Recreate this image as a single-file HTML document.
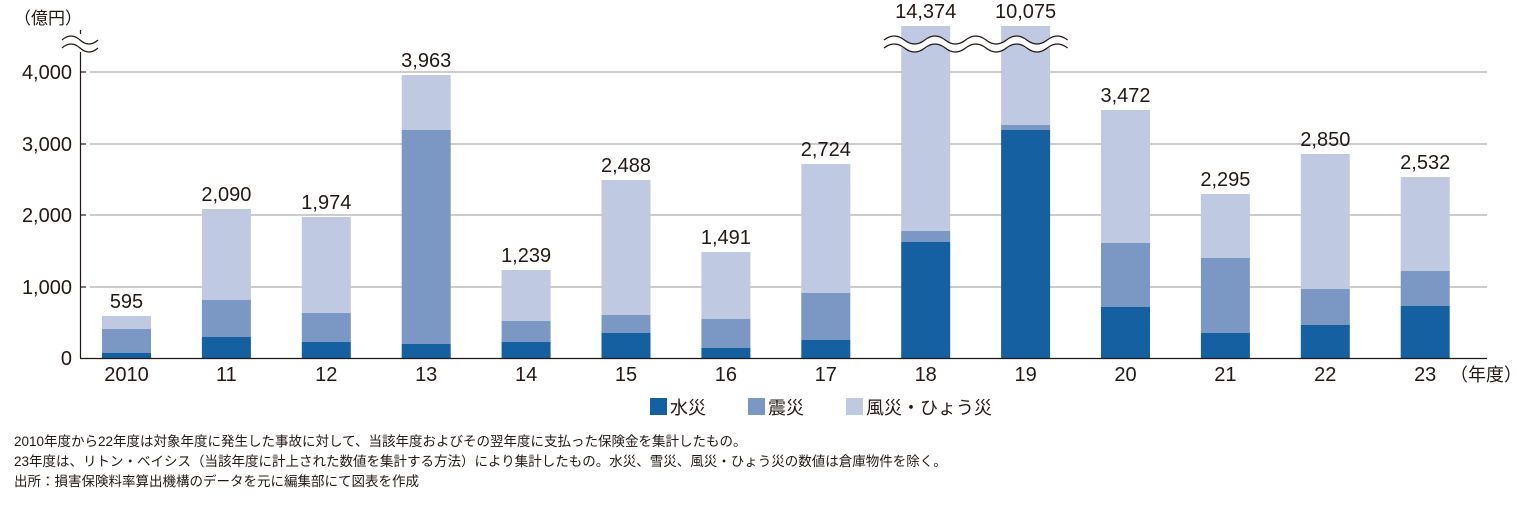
<!DOCTYPE html>
<html><head><meta charset="utf-8"><style>
body{margin:0;background:#fff;width:1517px;height:503px;overflow:hidden}
svg text{font-family:"Liberation Sans","Noto Sans CJK JP",sans-serif;fill:#231815}
.l{fill:#bfc9e1}.m{fill:#7b98c4}.d{fill:#1460a0}
</style></head><body>
<svg width="1517" height="503" xmlns="http://www.w3.org/2000/svg">
<g stroke="#999" stroke-width="1">
<line x1="90" y1="72" x2="1487" y2="72"/><line x1="90" y1="144" x2="1487" y2="144"/>
<line x1="90" y1="215" x2="1487" y2="215"/><line x1="90" y1="287" x2="1487" y2="287"/>
</g>
<g>
<rect class="l" x="102" y="316" width="49" height="13"/><rect class="m" x="102" y="329" width="49" height="24"/><rect class="d" x="102" y="353" width="49" height="5"/>
<rect class="l" x="201.9" y="209" width="49" height="91"/><rect class="m" x="201.9" y="300" width="49" height="37"/><rect class="d" x="201.9" y="337" width="49" height="21"/>
<rect class="l" x="301.8" y="217" width="49" height="96"/><rect class="m" x="301.8" y="313" width="49" height="29"/><rect class="d" x="301.8" y="342" width="49" height="16"/>
<rect class="l" x="401.7" y="75" width="49" height="55"/><rect class="m" x="401.7" y="130" width="49" height="214"/><rect class="d" x="401.7" y="344" width="49" height="14"/>
<rect class="l" x="501.6" y="270" width="49" height="51"/><rect class="m" x="501.6" y="321" width="49" height="21"/><rect class="d" x="501.6" y="342" width="49" height="16"/>
<rect class="l" x="601.5" y="180" width="49" height="135"/><rect class="m" x="601.5" y="315" width="49" height="18"/><rect class="d" x="601.5" y="333" width="49" height="25"/>
<rect class="l" x="701.4" y="252" width="49" height="67"/><rect class="m" x="701.4" y="319" width="49" height="29"/><rect class="d" x="701.4" y="348" width="49" height="10"/>
<rect class="l" x="801.3" y="164" width="49" height="129"/><rect class="m" x="801.3" y="293" width="49" height="47"/><rect class="d" x="801.3" y="340" width="49" height="18"/>
<rect class="l" x="901.2" y="26" width="49" height="205"/><rect class="m" x="901.2" y="231" width="49" height="11"/><rect class="d" x="901.2" y="242" width="49" height="116"/>
<rect class="l" x="1001.1" y="26" width="49" height="99"/><rect class="m" x="1001.1" y="125" width="49" height="5"/><rect class="d" x="1001.1" y="130" width="49" height="228"/>
<rect class="l" x="1101" y="110" width="49" height="133"/><rect class="m" x="1101" y="243" width="49" height="64"/><rect class="d" x="1101" y="307" width="49" height="51"/>
<rect class="l" x="1200.9" y="194" width="49" height="64"/><rect class="m" x="1200.9" y="258" width="49" height="75"/><rect class="d" x="1200.9" y="333" width="49" height="25"/>
<rect class="l" x="1300.8" y="154" width="49" height="135"/><rect class="m" x="1300.8" y="289" width="49" height="36"/><rect class="d" x="1300.8" y="325" width="49" height="33"/>
<rect class="l" x="1400.7" y="177" width="49" height="94"/><rect class="m" x="1400.7" y="271" width="49" height="35"/><rect class="d" x="1400.7" y="306" width="49" height="52"/>
</g>
<g stroke="#231815" stroke-width="1.2">
<line x1="80.5" y1="30" x2="80.5" y2="358"/><line x1="80" y1="358.5" x2="1487" y2="358.5"/>
<line x1="80" y1="72" x2="86" y2="72"/><line x1="80" y1="144" x2="86" y2="144"/><line x1="80" y1="215" x2="86" y2="215"/><line x1="80" y1="287" x2="86" y2="287"/>
</g>
<g font-size="20" text-anchor="middle">
<text x="126.5" y="308">595</text><text x="226.4" y="201">2,090</text><text x="326.3" y="209">1,974</text><text x="426.2" y="67">3,963</text>
<text x="526.1" y="262">1,239</text><text x="626" y="172">2,488</text><text x="725.9" y="244">1,491</text><text x="825.8" y="156">2,724</text>
<text x="925.7" y="18">14,374</text><text x="1025.6" y="18">10,075</text><text x="1125.5" y="102">3,472</text><text x="1225.4" y="186">2,295</text>
<text x="1325.3" y="146">2,850</text><text x="1425.2" y="169">2,532</text>
<text x="126.5" y="381">2010</text><text x="226.4" y="381">11</text><text x="326.3" y="381">12</text><text x="426.2" y="381">13</text>
<text x="526.1" y="381">14</text><text x="626" y="381">15</text><text x="725.9" y="381">16</text><text x="825.8" y="381">17</text>
<text x="925.7" y="381">18</text><text x="1025.6" y="381">19</text><text x="1125.5" y="381">20</text><text x="1225.4" y="381">21</text>
<text x="1325.3" y="381">22</text><text x="1425.2" y="381">23</text>
</g>
<path d="M884,44 q10.2,-8 20.4,0 t20.4,0 t20.4,0 t20.4,0 t20.4,0 t20.4,0 t20.4,0 t20.4,0 t20.4,0" fill="none" stroke="#fff" stroke-width="8"/>
<path d="M884,40 q10.2,-8 20.4,0 t20.4,0 t20.4,0 t20.4,0 t20.4,0 t20.4,0 t20.4,0 t20.4,0 t20.4,0" fill="none" stroke="#231815" stroke-width="1.3"/>
<path d="M884,48 q10.2,-8 20.4,0 t20.4,0 t20.4,0 t20.4,0 t20.4,0 t20.4,0 t20.4,0 t20.4,0 t20.4,0" fill="none" stroke="#231815" stroke-width="1.3"/>
<rect x="60" y="34" width="40" height="18" fill="#fff"/>
<path d="M62,40 q9,-8 18,0 t18,0" fill="none" stroke="#231815" stroke-width="1.2"/>
<path d="M62,48 q9,-8 18,0 t18,0" fill="none" stroke="#231815" stroke-width="1.2"/>
<g font-size="20" text-anchor="end">
<text x="72" y="79">4,000</text><text x="72" y="151">3,000</text><text x="72" y="222">2,000</text><text x="72" y="294">1,000</text><text x="72" y="365">0</text>
</g>
<text x="14" y="24" font-size="17">（億円）</text>
<text x="1450" y="381" font-size="18">（年度）</text>
<rect x="650" y="398" width="17" height="17" fill="#1460a0"/><text x="670" y="414" font-size="18">水災</text>
<rect x="748" y="398" width="17" height="17" fill="#7b98c4"/><text x="768" y="414" font-size="18">震災</text>
<rect x="846" y="398" width="17" height="17" fill="#bfc9e1"/><text x="866" y="414" font-size="18">風災・ひょう災</text>
<g font-size="13.5">
<text x="14" y="446">2010年度から22年度は対象年度に発生した事故に対して、当該年度およびその翌年度に支払った保険金を集計したもの。</text>
<text x="14" y="466">23年度は、リトン・ベイシス（当該年度に計上された数値を集計する方法）により集計したもの。水災、雪災、風災・ひょう災の数値は倉庫物件を除く。</text>
<text x="14" y="486">出所：損害保険料率算出機構のデータを元に編集部にて図表を作成</text>
</g>
</svg>
</body></html>
